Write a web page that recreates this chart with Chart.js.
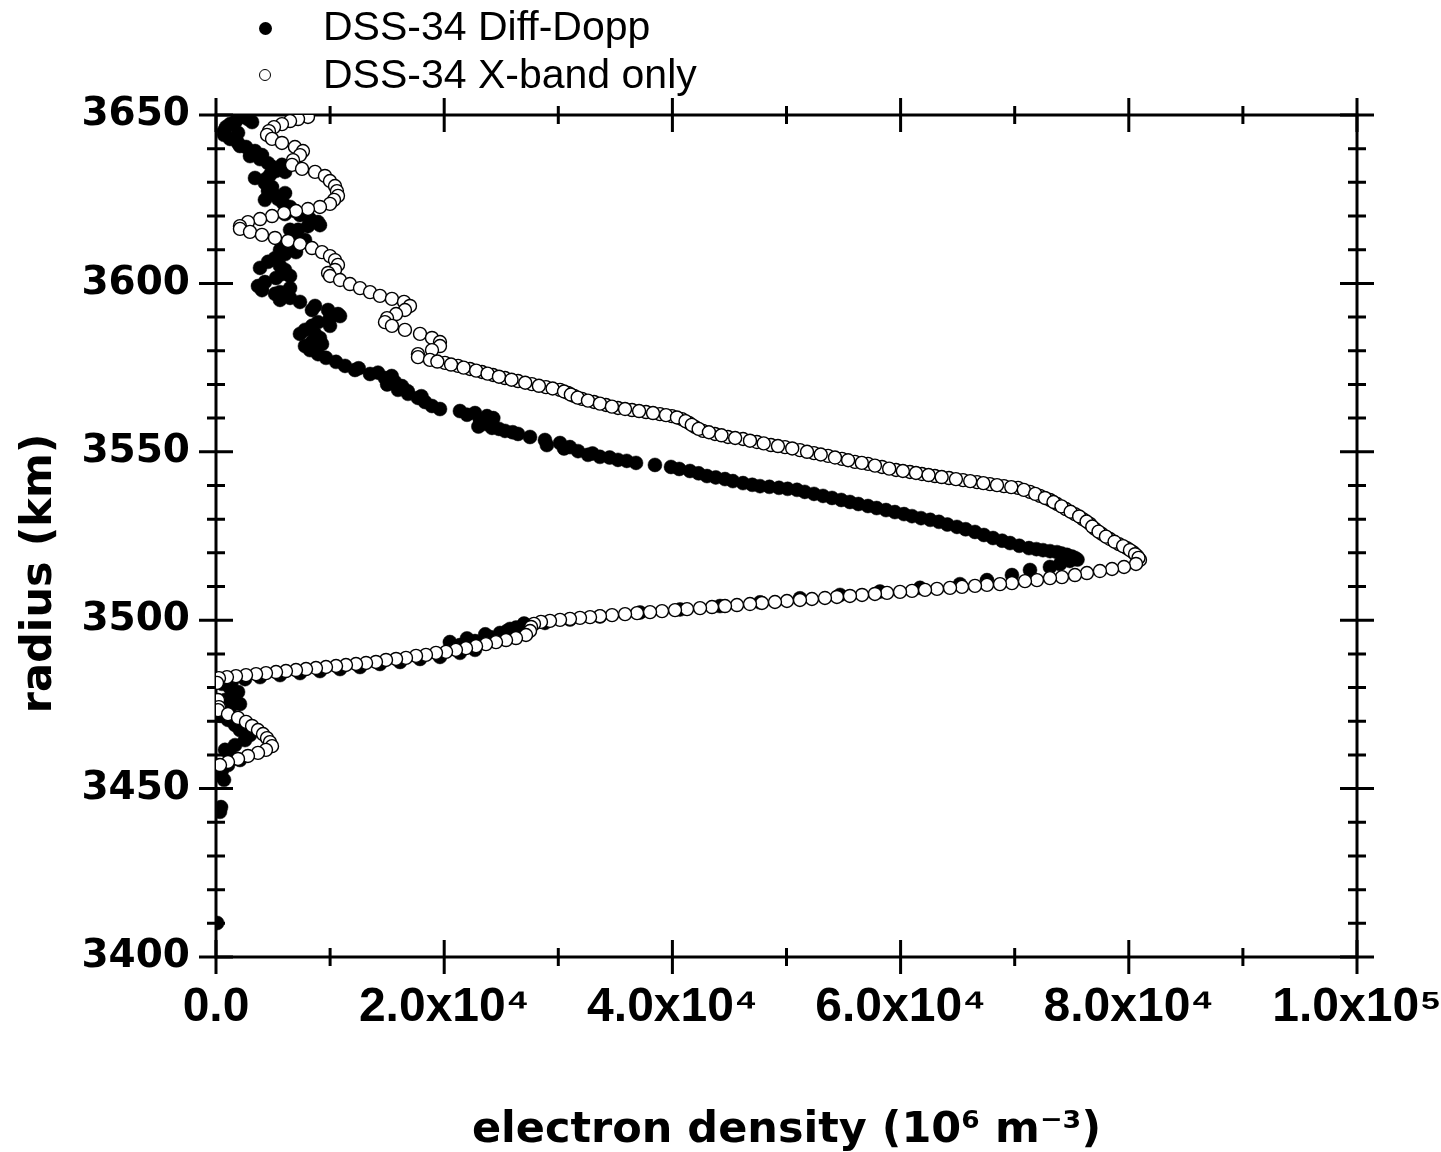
<!DOCTYPE html>
<html>
<head>
<meta charset="utf-8">
<script src="https://cdn.jsdelivr.net/npm/chart.js@4.4.1/dist/chart.umd.min.js"></script>
<style>
  body { margin: 0; background: #fff; }
  #wrap { position: relative; width: 1441px; height: 1152px; }
  .legend { position: absolute; left: 0; top: 0; font-family: "Liberation Sans", Arial, sans-serif; font-size: 41px; color: #000; }
  .legend .row { position: absolute; white-space: nowrap; line-height: 41px; }
  .legend .mark { position: absolute; border-radius: 50%; box-sizing: border-box; }
</style>
</head>
<body>
<div id="wrap">
  <canvas id="profileChart"></canvas>
  <div class="legend" id="legend"></div>
</div>
<script>
// radius (km), electron density (10^6 m^-3) pairs
const diffTop = [
  [3649.4, 2100], [3648.8, 2800], [3648.2, 1750], [3647.3, 1230], [3646.4, 880], [3645.2, 700],
  [3644.1, 700], [3642.9, 1230], [3641.7, 1930], [3640.5, 2630], [3639.3, 3420], [3638.1, 4030],
  [3636.9, 3860], [3635.7, 4560], [3634.6, 4910], [3633.4, 5260], [3632.2, 4730], [3631.0, 4380],
  [3629.8, 4290], [3628.6, 4910], [3627.4, 4560], [3626.2, 5170], [3625.1, 5430], [3623.9, 5870],
  [3622.7, 6490], [3621.5, 6920], [3620.3, 7360], [3619.1, 8240], [3618.2, 8940], [3617.0, 8060],
  [3615.9, 7190], [3614.7, 6660], [3613.5, 6920], [3612.3, 6490], [3611.1, 5870], [3609.9, 5610],
  [3608.7, 6050], [3607.5, 5170], [3606.4, 4560], [3605.2, 5610], [3604.0, 6050], [3602.8, 5780],
  [3601.6, 5260], [3600.4, 4290], [3599.2, 3680], [3598.0, 4030], [3596.9, 5170], [3595.7, 6490],
  [3594.5, 7360], [3593.3, 8680], [3592.1, 9820], [3590.9, 10690], [3589.7, 9990], [3588.5, 8940],
  [3587.4, 8410], [3586.2, 7800], [3585.0, 8680], [3583.8, 9110], [3582.6, 8410], [3581.4, 7800],
  [3580.2, 8240], [3579.0, 8940], [3577.9, 9640]
];
// other edge of the thick black band near the top
const diffTopSpread = [
  [3647.9, 3160], [3644.7, 1930], [3640.8, 2100], [3637.8, 2980], [3635.2, 5780], [3633.1, 6050],
  [3631.3, 3420], [3626.8, 6050], [3624.8, 4290], [3620.6, 6050], [3617.3, 9110], [3615.9, 6490],
  [3612.9, 7800], [3609.3, 7010], [3604.6, 3860], [3602.2, 6490], [3598.6, 6490], [3597.4, 5610],
  [3595.1, 5610], [3592.1, 8410], [3590.3, 10870], [3587.4, 9990], [3585.0, 7360], [3582.0, 9290]
];
const diffUpper = [
  [3576.7, 10520], [3575.5, 11310], [3574.8, 12500], [3574.3, 12180], [3573.5, 14200], [3573.1, 13500],
  [3572.5, 15400], [3571.9, 14810], [3570.7, 15690], [3570.0, 15000], [3569.5, 16300], [3568.4, 15950],
  [3568.0, 16800], [3567.2, 16830], [3566.5, 18000], [3566.0, 17700], [3564.8, 18320], [3563.6, 18930],
  [3562.7, 19630], [3562.1, 21380], [3561.5, 22700], [3561.0, 22000], [3560.6, 23750], [3560.0, 24300],
  [3559.4, 23140], [3558.3, 23570], [3557.5, 23000], [3557.1, 24190], [3556.8, 24800], [3556.2, 25330],
  [3555.8, 26000], [3555.3, 26470], [3554.4, 27520], [3553.5, 28830], [3552.6, 30150], [3552.0, 29000],
  [3551.4, 31020], [3551.0, 30500], [3550.2, 31730], [3549.5, 33000], [3549.1, 32600], [3548.5, 33650],
  [3548.3, 34500], [3547.6, 35230], [3547.3, 36000], [3546.7, 36810], [3546.1, 38470], [3545.5, 39880],
  [3544.3, 41540], [3542.8, 43030], [3541.9, 44610], [3540.7, 46190], [3539.8, 47680], [3539.3, 49340],
  [3538.7, 50920], [3537.5, 52410], [3536.3, 53990], [3535.1, 55560], [3533.9, 57140], [3532.7, 58720],
  [3531.5, 60300], [3530.3, 61790], [3529.2, 63360], [3527.7, 64940], [3526.2, 66520], [3524.4, 68100],
  [3522.9, 69590], [3521.4, 71250], [3520.8, 72480], [3520.2, 73710], [3519.4, 74580], [3518.5, 75280],
  [3517.6, 74840], [3516.7, 73970], [3515.8, 73090]
];
// further marks seen along the black upper branch
const diffUpperMore = [
  [3544.9, 40600], [3543.6, 42300], [3542.4, 43800], [3541.3, 45300], [3540.2, 47000], [3539.6, 48500],
  [3539.0, 50100], [3538.1, 51600], [3536.9, 53200], [3535.7, 54800], [3534.5, 56300], [3533.3, 57900],
  [3532.1, 59500], [3530.9, 61000], [3529.8, 62600], [3528.4, 64100], [3527.0, 65700], [3525.3, 67300],
  [3523.6, 68900], [3522.1, 70400], [3521.1, 71900], [3520.5, 73100], [3519.8, 74100], [3518.9, 75000],
  [3518.0, 75500]
];
const diffLower = [
  [3514.9, 71340], [3513.4, 69760], [3511.9, 67570], [3510.7, 65200], [3509.6, 61700], [3508.5, 58190],
  [3507.5, 54690], [3506.5, 51180], [3505.3, 47680], [3504.2, 44170], [3503.2, 40670], [3502.3, 37160],
  [3501.1, 33650], [3500.2, 31020], [3499.2, 28830], [3499.0, 27000], [3498.6, 27080], [3497.8, 26300],
  [3497.4, 25770], [3496.8, 25500], [3496.2, 24890], [3495.8, 23600], [3495.0, 24010], [3494.6, 22000],
  [3493.8, 22700], [3493.5, 20500], [3492.6, 21380], [3491.2, 22700], [3490.3, 21380], [3489.1, 19630],
  [3488.5, 17880], [3487.6, 16130], [3487.0, 14370], [3486.1, 12620], [3485.5, 10870], [3484.9, 9110],
  [3484.3, 7360], [3483.7, 5610], [3483.1, 3860], [3482.5, 2540], [3481.9, 1400], [3481.1, 530]
];
const diffTail = [
  [3479.9, 1230], [3478.7, 1930], [3477.5, 1400], [3476.3, 790], [3475.1, 2100], [3473.9, 1230],
  [3472.7, 530], [3471.6, 350], [3470.4, 1050], [3468.9, 1670], [3467.4, 2100], [3465.9, 2980],
  [3464.4, 2540], [3462.9, 1670], [3461.5, 790], [3460.0, 1230], [3458.5, 2100], [3457.0, 1050],
  [3455.5, 530], [3454.0, 350], [3452.6, 700], [3444.5, 440], [3443.1, 350], [3410.1, 100]
];

const xbandTop = [
  [3649.4, 8060], [3648.8, 7190], [3648.2, 6490], [3647.3, 5780], [3646.4, 5080], [3645.2, 4640],
  [3644.1, 4470], [3642.9, 4910], [3641.7, 5780], [3640.5, 6920], [3639.3, 7620], [3638.1, 7360],
  [3636.6, 6750], [3635.2, 6660], [3634.0, 7540], [3633.1, 8680], [3631.9, 9550], [3630.4, 9990],
  [3628.9, 10430], [3627.4, 10600], [3626.0, 10690], [3624.8, 10340], [3623.6, 9990], [3622.7, 9110],
  [3622.1, 8060], [3621.5, 7010], [3620.9, 5960], [3620.0, 4910], [3619.1, 3860], [3618.2, 2800],
  [3617.0, 2100], [3616.2, 2100], [3615.3, 2980], [3614.4, 4030], [3613.5, 5170], [3612.6, 6310],
  [3611.7, 7360], [3610.5, 8410], [3609.3, 9290], [3608.1, 9990], [3606.9, 10430], [3605.5, 10690],
  [3604.0, 10430], [3603.1, 9820], [3602.2, 9990], [3601.0, 10870], [3599.8, 11740], [3598.6, 12620],
  [3597.4, 13500], [3596.3, 14370], [3595.4, 15420], [3594.5, 16480], [3593.3, 17000], [3592.1, 16560],
  [3590.9, 15780], [3589.7, 14990], [3588.5, 14810], [3587.4, 15420], [3586.2, 16560], [3585.0, 17880],
  [3583.8, 18930], [3582.6, 19630], [3581.4, 19630], [3580.2, 18930], [3579.0, 17700], [3578.1, 17700]
];
const xbandUpper = [
  [3577.3, 18750], [3576.4, 20070], [3575.5, 21210], [3574.6, 22260], [3573.7, 23310], [3572.8, 24280],
  [3571.9, 25330], [3571.0, 26470], [3570.1, 27690], [3569.2, 28920], [3568.4, 30150], [3567.5, 30850],
  [3566.6, 31380], [3565.7, 32080], [3564.8, 33130], [3563.9, 34180], [3563.0, 35230], [3562.4, 36460],
  [3561.8, 37690], [3561.2, 38910], [3560.6, 39960], [3559.7, 40840], [3558.6, 41450], [3557.4, 41980],
  [3556.2, 42680], [3555.3, 43730], [3554.4, 44870], [3553.8, 46190], [3552.9, 47410], [3552.0, 48640],
  [3551.4, 49870], [3550.5, 51180], [3549.6, 52410], [3548.8, 53640], [3547.9, 54860], [3547.0, 56000],
  [3546.4, 57140], [3545.5, 58370], [3544.6, 59600], [3544.0, 60820], [3543.4, 61870], [3542.8, 63010],
  [3542.2, 64240], [3541.6, 65470], [3541.0, 66700], [3540.4, 67830], [3539.8, 69060], [3539.3, 70290],
  [3538.1, 71340], [3536.9, 72210], [3535.7, 73090], [3534.5, 73710], [3533.0, 74490], [3531.5, 75280],
  [3530.0, 75980], [3528.6, 76600], [3527.1, 77040], [3525.6, 77650], [3524.1, 78350], [3522.6, 79140],
  [3521.4, 79840], [3520.2, 80370], [3519.1, 80720], [3517.9, 80980]
];
// further open circles seen along the upper branch
const xbandUpperMore = [
  [3576.8, 19400], [3575.9, 20600], [3575.0, 21700], [3574.1, 22800], [3573.2, 23800], [3572.3, 24800],
  [3571.4, 25900], [3570.5, 27100], [3569.6, 28300], [3568.8, 29500], [3567.9, 30500], [3567.0, 31100],
  [3566.1, 31700], [3565.2, 32600], [3564.3, 33650], [3563.4, 34700], [3562.7, 35850], [3562.1, 37080],
  [3561.5, 38300], [3560.9, 39440], [3560.2, 40400], [3559.1, 41150], [3558.0, 41700], [3556.8, 42300],
  [3555.8, 43200], [3554.9, 44300], [3554.1, 45500], [3553.3, 46800], [3552.5, 48000], [3551.7, 49250],
  [3551.0, 50500], [3550.0, 51800], [3549.2, 53000], [3548.3, 54250], [3547.5, 55400], [3546.7, 56600],
  [3545.9, 57750], [3545.0, 59000], [3544.3, 60200], [3543.7, 61350], [3543.1, 62450], [3542.5, 63600],
  [3541.9, 64850], [3541.3, 66100], [3540.7, 67250], [3540.1, 68450], [3539.5, 69700], [3538.7, 70800],
  [3537.5, 71800], [3536.3, 72650], [3535.1, 73400], [3533.8, 74100], [3532.2, 74900], [3530.8, 75650],
  [3529.3, 76300], [3527.8, 76800], [3526.3, 77350], [3524.8, 78000], [3523.3, 78750], [3522.0, 79500],
  [3520.8, 80100], [3519.6, 80550], [3518.5, 80850]
];
const xbandLower = [
  [3516.7, 80630], [3515.8, 79580], [3515.2, 78530], [3514.6, 77470], [3514.0, 76330], [3513.4, 75280],
  [3512.8, 74140], [3512.5, 73090], [3511.9, 71950], [3511.6, 70900], [3511.0, 69760], [3510.7, 68710],
  [3510.5, 67570], [3510.2, 66520], [3509.9, 65380], [3509.6, 64330], [3509.3, 63190], [3509.0, 62140],
  [3508.7, 61000], [3508.4, 59950], [3508.1, 58810], [3507.8, 57750], [3507.5, 56620], [3507.2, 55560],
  [3506.9, 54420], [3506.6, 53370], [3506.3, 52230], [3506.0, 51180], [3505.7, 50040], [3505.4, 48990],
  [3505.1, 47850], [3504.8, 46800], [3504.5, 45660], [3504.2, 44610], [3503.9, 43470], [3503.6, 42420],
  [3503.3, 41280], [3503.0, 40230], [3502.7, 39090], [3502.4, 38040], [3502.1, 36900], [3501.8, 35850],
  [3501.5, 34710], [3501.2, 33650], [3500.9, 32780], [3500.7, 31900], [3500.4, 31020], [3500.1, 30150],
  [3499.8, 29270], [3499.5, 28480], [3498.9, 27870], [3498.0, 27610], [3496.8, 27520], [3495.6, 27170],
  [3494.7, 26290], [3494.1, 25420], [3493.5, 24540], [3492.9, 23660], [3492.3, 22790], [3491.7, 21910],
  [3491.2, 21030], [3490.6, 20160], [3490.3, 19280], [3489.7, 18400], [3489.4, 17530], [3488.8, 16650],
  [3488.5, 15780], [3488.2, 14900], [3487.6, 14020], [3487.3, 13150], [3487.0, 12270], [3486.7, 11390],
  [3486.4, 10520], [3486.1, 9640], [3485.8, 8760], [3485.5, 7890], [3485.2, 7010], [3484.9, 6130],
  [3484.6, 5260], [3484.3, 4380], [3484.0, 3510], [3483.7, 2630], [3483.4, 1750], [3483.1, 960],
  [3482.8, 260]
];
const xbandLobe = [
  [3481.4, 90], [3476.3, 180], [3474.2, 260], [3473.3, 180], [3472.1, 1050], [3471.0, 1930],
  [3469.8, 2630], [3468.6, 3160], [3467.4, 3680], [3466.2, 4120], [3465.0, 4470], [3463.8, 4730],
  [3462.6, 4910], [3461.5, 4380], [3460.6, 3680], [3459.7, 2800], [3458.8, 1930], [3457.9, 1050],
  [3457.0, 350]
];

const seriesLabels = ["DSS-34 Diff-Dopp", "DSS-34 X-band only"];
const xTicks = [0, 20000, 40000, 60000, 80000, 100000];
const yTicks = [3400, 3450, 3500, 3550, 3600, 3650];
const X_MINOR = 10000;
const Y_MINOR = 10;

const toPoints = segs => segs.flat().map(([r, n]) => ({ x: n, y: r }));

const supDigits = { '0': '⁰', '1': '¹', '2': '²', '3': '³', '4': '⁴', '5': '⁵', '6': '⁶', '7': '⁷', '8': '⁸', '9': '⁹', '-': '⁻' };
function sciLabel(value) {
  if (value === 0) return '0.0';
  const exp = Math.floor(Math.log10(value));
  const mant = (value / Math.pow(10, exp)).toFixed(1);
  return mant + 'x10' + String(exp).split('').map(c => supDigits[c]).join('');
}

// frame on all four sides with in/out tick marks, drawn under the points
const frameTicks = {
  id: 'frameTicks',
  beforeDatasetsDraw(chart) {
    const { ctx, chartArea: a, scales: { x, y } } = chart;
    ctx.save();
    ctx.strokeStyle = '#000';
    ctx.lineWidth = 3;
    ctx.strokeRect(a.left, a.top, a.right - a.left, a.bottom - a.top);
    ctx.beginPath();
    const nx = Math.round((x.max - x.min) / X_MINOR);
    for (let i = 0; i <= nx; i++) {
      const v = x.min + i * X_MINOR;
      const px = x.getPixelForValue(v);
      const len = xTicks.includes(v) ? 17 : 9;
      ctx.moveTo(px, a.bottom - len); ctx.lineTo(px, a.bottom + len);
      ctx.moveTo(px, a.top - len); ctx.lineTo(px, a.top + len);
    }
    const ny = Math.round((y.max - y.min) / Y_MINOR);
    for (let i = 0; i <= ny; i++) {
      const v = y.min + i * Y_MINOR;
      const py = y.getPixelForValue(v);
      const len = yTicks.includes(v) ? 17 : 9;
      ctx.moveTo(a.left - len, py); ctx.lineTo(a.left + len, py);
      ctx.moveTo(a.right - len, py); ctx.lineTo(a.right + len, py);
    }
    ctx.stroke();
    ctx.restore();
  }
};

const ctx = document.getElementById('profileChart').getContext('2d');
const profileChart = new Chart(ctx, {
  type: 'scatter',
  data: {
    datasets: [{
      label: seriesLabels[0],
      data: toPoints([diffTop, diffTopSpread, diffUpper, diffUpperMore, diffLower, diffTail]),
      pointRadius: 7,
      pointBackgroundColor: '#000',
      pointBorderColor: '#000',
      pointBorderWidth: 0.5,
      order: 1
    }, {
      label: seriesLabels[1],
      data: toPoints([xbandTop, xbandUpper, xbandUpperMore, xbandLower, xbandLobe]),
      pointRadius: 6.5,
      pointBackgroundColor: '#fff',
      pointBorderColor: '#000',
      pointBorderWidth: 1.4,
      order: 0
    }]
  },
  options: {
    responsive: true,
    maintainAspectRatio: false,
    animation: false,
    layout: { padding: { top: 115, right: 84, left: 0, bottom: 0 } },
    scales: {
      x: {
        type: 'linear',
        min: 0,
        max: 100000,
        afterFit: s => { s.height = 195; s.paddingLeft = 0; s.paddingRight = 0; },
        afterBuildTicks: s => { s.ticks = xTicks.map(v => ({ value: v })); },
        grid: { display: false, drawTicks: false },
        border: { display: false },
        ticks: {
          padding: 22,
          color: '#000',
          maxRotation: 0,
          autoSkip: false,
          font: { family: '"Liberation Sans", Arial, sans-serif', size: 48, weight: 'bold' },
          callback: v => sciLabel(v)
        },
        title: {
          display: true,
          text: 'electron density (10⁶ m⁻³)',
          color: '#000',
          padding: 0,
          font: { family: '"DejaVu Sans", sans-serif', size: 43, weight: 'bold', lineHeight: 1.0 }
        }
      },
      y: {
        type: 'linear',
        min: 3400,
        max: 3650,
        afterFit: s => { s.width = 216; s.paddingTop = 0; s.paddingBottom = 0; },
        afterBuildTicks: s => { s.ticks = yTicks.map(v => ({ value: v })); },
        grid: { display: false, drawTicks: false },
        border: { display: false },
        ticks: {
          padding: 26,
          color: '#000',
          autoSkip: false,
          font: { family: '"DejaVu Sans", sans-serif', size: 39, weight: 'bold' },
          callback: v => String(v)
        },
        title: {
          display: true,
          text: 'radius (km)     ',
          color: '#000',
          padding: { top: 14, bottom: 0 },
          font: { family: '"DejaVu Sans", sans-serif', size: 43, weight: 'bold' }
        }
      }
    },
    plugins: {
      legend: { display: false },
      tooltip: { enabled: false }
    }
  },
  plugins: [frameTicks]
});

// legend block above the plot, as in the figure
const legendEl = document.getElementById('legend');
const legendRows = [
  { text: seriesLabels[0], baseline: 40, mark: { size: 13, cy: 28, fill: '#000', border: 0 } },
  { text: seriesLabels[1], baseline: 88, mark: { size: 12, cy: 75, fill: '#fff', border: 1.5 } }
];
legendRows.forEach(row => {
  const m = document.createElement('span');
  m.className = 'mark';
  m.style.width = m.style.height = row.mark.size + 'px';
  m.style.left = (265 - row.mark.size / 2) + 'px';
  m.style.top = (row.mark.cy - row.mark.size / 2) + 'px';
  m.style.background = row.mark.fill;
  m.style.border = row.mark.border + 'px solid #000';
  legendEl.appendChild(m);
  const t = document.createElement('div');
  t.className = 'row';
  t.textContent = row.text;
  t.style.left = '323px';
  t.style.top = (row.baseline - 34) + 'px';
  legendEl.appendChild(t);
});
</script>
</body>
</html>
